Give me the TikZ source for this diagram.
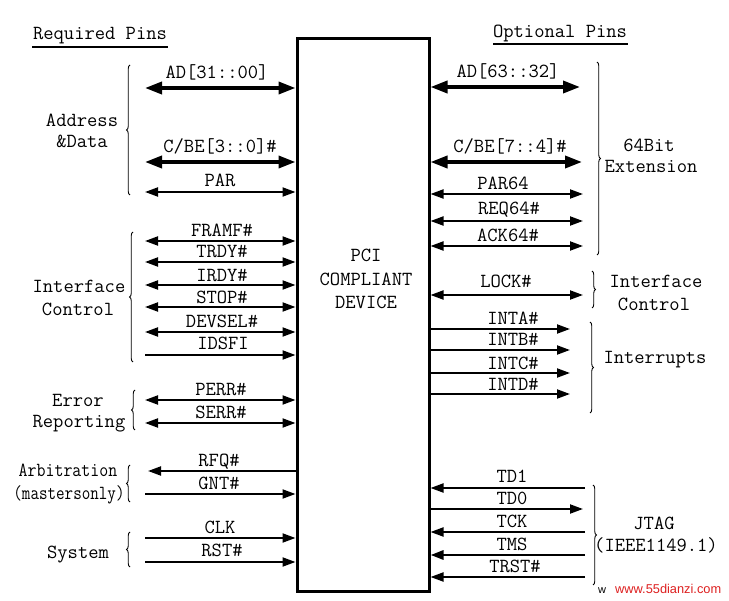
\documentclass[tikz,border=0pt]{standalone}
\usepackage{fontspec}
\usepackage{graphicx}
\newfontfamily\wmfont{Liberation Sans}
\usetikzlibrary{arrows.meta,decorations.pathreplacing}
\definecolor{wmred}{RGB}{222,32,32}
\tikzset{
  tipS/.tip={Triangle[length=13pt,width=9pt]},
  tipB/.tip={Triangle[length=17pt,width=12pt]},
}
\begin{document}
\begin{tikzpicture}[x=1pt,y=-1pt,
  every node/.style={font=\ttfamily\fontsize{20}{24}\selectfont, inner sep=0pt},
  lbl/.style={anchor=base},
  sig/.style={line width=2pt},
  bus/.style={line width=3.6pt},
  heavy/.style={line width=2.8pt},
  brc/.style={decorate, decoration={brace, amplitude=3.5pt}, line width=0.9pt},
]
\fill[white] (0,0) rectangle (729,601);
\useasboundingbox (0,0) rectangle (729,601);

% device
\node[draw, line width=3pt, minimum width=132pt, minimum height=553pt] (dev) at (363,315.5) {};
\node[lbl] (pci) at (366,262) {PCI};
\node[lbl] (compl) at (366,286) {COMPLIANT};
\node[lbl] (devt) at (366,309) {DEVICE};

% headings
\node[lbl] (req) at (100,40) {Required Pins};
\draw[line width=1.6pt] (32,47) -- (168,47);
\node[lbl] (opt) at (560,38) {Optional Pins};
\draw[line width=1.6pt] (493,44) -- (628,44);

% ---------- left side ----------
\coordinate (adL) at (145,88);
\draw[bus, tipB-tipB] (adL) -- (adL -| dev.west);
\node[lbl] (adLt) at (217,79) {AD[31::00]};
\coordinate (cbeL) at (145,162);
\draw[bus, tipB-tipB] (cbeL) -- (cbeL -| dev.west);
\node[lbl] (cbeLt) at (220,153) {C/BE[3::0]\#};
\coordinate (parL) at (145,192);
\draw[sig, tipS-tipS] (parL) -- (parL -| dev.west);
\node[lbl] (parLt) at (220,187) {PAR};

\coordinate (frame) at (145,241);
\draw[sig, tipS-tipS] (frame) -- (frame -| dev.west);
\node[lbl] (framet) at (222,237) {FRAMF\#};
\coordinate (trdy) at (145,262);
\draw[sig, tipS-tipS] (trdy) -- (trdy -| dev.west);
\node[lbl] (trdyt) at (222,258) {TRDY\#};
\coordinate (irdy) at (145,285);
\draw[sig, tipS-tipS] (irdy) -- (irdy -| dev.west);
\node[lbl] (irdyt) at (222,282) {IRDY\#};
\coordinate (stop) at (145,307);
\draw[sig, tipS-tipS] (stop) -- (stop -| dev.west);
\node[lbl] (stopt) at (222,304) {STOP\#};
\coordinate (devsel) at (145,332);
\draw[sig, tipS-tipS] (devsel) -- (devsel -| dev.west);
\node[lbl] (devselt) at (222,328) {DEVSEL\#};
\coordinate (idsel) at (145,355);
\draw[sig, -tipS] (idsel) -- (idsel -| dev.west);
\node[lbl] (idselt) at (223,350) {IDSFI};

\coordinate (perr) at (145,400);
\draw[sig, tipS-tipS] (perr) -- (perr -| dev.west);
\node[lbl] (perrt) at (221,396) {PERR\#};
\coordinate (serr) at (145,423);
\draw[sig, tipS-tipS] (serr) -- (serr -| dev.west);
\node[lbl] (serrt) at (221,419) {SERR\#};

\coordinate (rq) at (148,471);
\draw[sig, -tipS] (rq -| dev.west) -- (rq);
\node[lbl] (rqt) at (219,467) {RFQ\#};
\coordinate (gnt) at (145,494);
\draw[sig, -tipS] (gnt) -- (gnt -| dev.west);
\node[lbl] (gntt) at (219,490) {GNT\#};

\coordinate (clk) at (145,538);
\draw[sig, -tipS] (clk) -- (clk -| dev.west);
\node[lbl] (clkt) at (220,534) {CLK};
\coordinate (rst) at (145,562);
\draw[sig, -tipS] (rst) -- (rst -| dev.west);
\node[lbl] (rstt) at (222,557) {RST\#};

% left group labels and braces
\node[lbl] (g1a) at (82,127) {Address};
\node[lbl] (g1b) at (82,148) {\&Data};
\draw[brc] (130,195) -- (130,65);
\node[lbl] (g2a) at (79,293) {Interface};
\node[lbl] (g2b) at (78,316) {Control};
\draw[brc] (133,362) -- (133,232);
\node[lbl] (g3a) at (78,407) {Error};
\node[lbl] (g3b) at (79,428) {Reporting};
\draw[brc] (135,430) -- (135,390);
\node[lbl] (g4a) at (68,477) {\scalebox{0.87}[1]{Arbitration}};
\node[lbl] (g4b) at (69,500) {\scalebox{0.83}[1]{(mastersonly)}};
\draw[brc] (130,502) -- (130,465);
\node[lbl] (g5) at (78,559) {System};
\draw[brc] (130,567) -- (130,532);

% ---------- right side ----------
\coordinate (adR) at (580,87);
\draw[bus, tipB-tipB] (adR -| dev.east) -- (adR);
\node[lbl] (adRt) at (508,78) {AD[63::32]};
\coordinate (cbeR) at (582,162);
\draw[bus, tipB-tipB] (cbeR -| dev.east) -- (cbeR);
\node[lbl] (cbeRt) at (510,153) {C/BE[7::4]\#};
\coordinate (par64) at (583,194);
\draw[sig, tipS-tipS] (par64 -| dev.east) -- (par64);
\node[lbl] (par64t) at (503,190) {PAR64};
\coordinate (req64) at (583,221);
\draw[sig, tipS-tipS] (req64 -| dev.east) -- (req64);
\node[lbl] (req64t) at (509,215) {REQ64\#};
\coordinate (ack64) at (583,246);
\draw[sig, tipS-tipS] (ack64 -| dev.east) -- (ack64);
\node[lbl] (ack64t) at (508,242) {ACK64\#};

\coordinate (lock) at (583,295);
\draw[sig, tipS-tipS] (lock -| dev.east) -- (lock);
\node[lbl] (lockt) at (506,288) {LOCK\#};

\coordinate (inta) at (570,329);
\draw[sig, -tipS] (inta -| dev.east) -- (inta);
\node[lbl] (intat) at (513,325) {INTA\#};
\coordinate (intb) at (570,350);
\draw[sig, -tipS] (intb -| dev.east) -- (intb);
\node[lbl] (intbt) at (513,346) {INTB\#};
\coordinate (intc) at (570,373);
\draw[sig, -tipS] (intc -| dev.east) -- (intc);
\node[lbl] (intct) at (513,370) {INTC\#};
\coordinate (intd) at (570,394);
\draw[sig, -tipS] (intd -| dev.east) -- (intd);
\node[lbl] (intdt) at (513,391) {INTD\#};

\coordinate (td1) at (585,488);
\draw[sig, -tipS] (td1) -- (td1 -| dev.east);
\node[lbl] (td1t) at (512,483) {TD1};
\coordinate (td0) at (583,509);
\draw[sig, -tipS] (td0 -| dev.east) -- (td0);
\node[lbl] (td0t) at (512,505) {TD0};
\coordinate (tck) at (585,532);
\draw[sig, -tipS] (tck) -- (tck -| dev.east);
\node[lbl] (tckt) at (512,528) {TCK};
\coordinate (tms) at (585,555);
\draw[heavy, -tipS] (tms) -- (tms -| dev.east);
\node[lbl] (tmst) at (512,551) {TMS};
\coordinate (trst) at (585,577);
\draw[sig, -tipS] (trst) -- (trst -| dev.east);
\node[lbl] (trstt) at (515,573) {TRST\#};

% right group labels and braces
\draw[brc] (597,62) -- (597,255);
\node[lbl] (h1a) at (649,152) {64Bit};
\node[lbl] (h1b) at (651,173) {Extension};
\draw[brc] (592,271) -- (592,308);
\node[lbl] (h2a) at (656,288) {Interface};
\node[lbl] (h2b) at (654,311) {Control};
\draw[brc] (590,322) -- (590,413);
\node[lbl] (h3) at (655,364) {Interrupts};
\draw[brc] (593,485) -- (593,585);
\node[lbl] (h4a) at (654,530) {JTAG};
\node[lbl] (h4b) at (656,552) {(IEEE1149.1)};

% watermark
\node[anchor=base west, font=\wmfont\fontsize{11}{12}\selectfont] (wm0) at (598,594) {w};
\node[anchor=base west, font=\wmfont\fontsize{12.8}{14}\selectfont, text=wmred] (wm) at (615,594) {www.55dianzi.com};
\end{tikzpicture}
\end{document}
